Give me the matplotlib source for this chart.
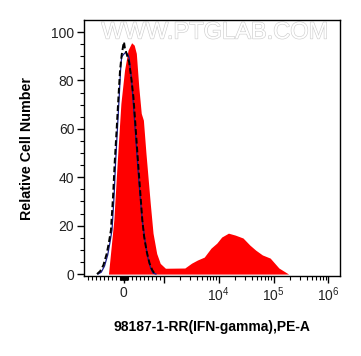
import matplotlib
matplotlib.use('Agg')
import matplotlib.pyplot as plt
import matplotlib.patheffects as pe
import numpy as np

# Histogram traces (fluorescence value, relative count)
sample_x = [-381, -248, -160, -72, 19, 107, 195, 259, 312, 373, 435, 488, 552, 659, 728, 819,
            907, 1063, 2400, 3190, 4080, 5430, 7210, 9220, 11300, 15000, 20000, 27700,
            36800, 47100, 62500, 86700, 125000, 188000]
sample_y = [0, 22.3, 47.1, 70.5, 84.3, 92.6, 95.6, 94.6, 91.2, 77.4, 66.4, 63.6, 49.9, 29.2, 16.9, 8.5,
            4.4, 2.4, 2.5, 4.5, 5.8, 7.0, 10.7, 12.8, 15.3, 16.9, 16.1, 14.9,
            12.0, 9.9, 7.9, 6.6, 2.5, 0]

isotype_x = [-640, -560, -480, -400, -347, -293, -240, -205, -160, -115, -80, -53, 0, 53, 107, 133,
             160, 195, 240, 285, 328, 373, 419, 461, 533, 595, 667, 728, 800]
isotype_y = [0, 0.8, 3.3, 7.9, 12.8, 18.2, 32.6, 45.9, 59.5, 73.1, 84.3, 89.7, 90.9, 91.7, 90.5, 89.3,
             85.1, 80.2, 69.8, 59.5, 49.2, 38.8, 29.8, 22.3, 13.2, 7.0, 2.5, 0.4, 0]

control_x = [-667, -587, -507, -427, -373, -320, -267, -227, -179, -133, -93, -53, -13, 5, 27, 80,
             133, 187, 240, 285, 328, 373, 419, 461, 507, 573, 640, 707, 773]
control_y = [0, 1.2, 3.7, 8.3, 12.8, 18.2, 32.2, 45.9, 59.5, 73.1, 84.3, 90.5, 94.6, 95.9, 93.4, 90.5,
             87.6, 80.9, 73.1, 62.8, 52.5, 42.1, 31.8, 22.3, 15.3, 9.1, 4.5, 1.7, 0]

x_major = [0, 1e3, 1e4, 1e5, 1e6]
x_labels = ['0', '', '$10^4$', '$10^5$', '$10^6$']
y_major = [0, 20, 40, 60, 80, 100]

plt.rcParams['font.family'] = ['Liberation Sans', 'DejaVu Sans']
plt.rcParams['mathtext.fontset'] = 'custom'
plt.rcParams['mathtext.rm'] = 'Liberation Sans'

fig = plt.figure(figsize=(3.61, 3.56), dpi=100)
ax = fig.add_axes([84 / 361, 80 / 356, 256 / 361, 256 / 356])

ax.fill_between(sample_x, sample_y, 0, color='#ff0000', linewidth=0, zorder=2)
ax.plot(isotype_x, isotype_y, color='#1a1a8c', linewidth=0.9, zorder=3)
ax.plot(control_x, control_y, color='black', linewidth=1.4, dashes=(3, 1.5), zorder=4)

# biexponential-like axis
ax.set_xscale('symlog', linthresh=1000, linscale=0.66)
ax.set_xlim(-990, 1.63e6)
ax.set_ylim(-0.8, 105)

ax.set_xticks(x_major)
ax.set_xticklabels(x_labels)
minors = []
for d in [10, 100]:
    for m in range(1, 10):
        minors += [m * d, -m * d]
for d in [1e3, 1e4, 1e5]:
    for m in range(2, 10):
        minors.append(m * d)
ax.set_xticks(minors, minor=True)

ax.set_yticks(y_major)
ax.set_yticks(np.arange(0, 101, 5), minor=True)

ax.tick_params(which='major', length=5, width=1, labelsize=10, labelcolor='#222222', pad=2)
ax.tick_params(which='minor', length=3, width=0.8)
for s in ax.spines.values():
    s.set_linewidth(1)

ax.set_xlabel('98187-1-RR(IFN-gamma),PE-A', fontsize=10, fontweight='bold', labelpad=11)
ax.set_ylabel('Relative Cell Number', fontsize=10.3, fontweight='bold', labelpad=12)

# watermark
ax.text(0.51, 0.951, 'WWW.PTGLAB.COM', transform=ax.transAxes, ha='center', va='center',
        fontsize=17, color='white', zorder=1,
        path_effects=[pe.withStroke(linewidth=0.9, foreground='#cfcfcf')])

fig.savefig('out.png', dpi=100)
